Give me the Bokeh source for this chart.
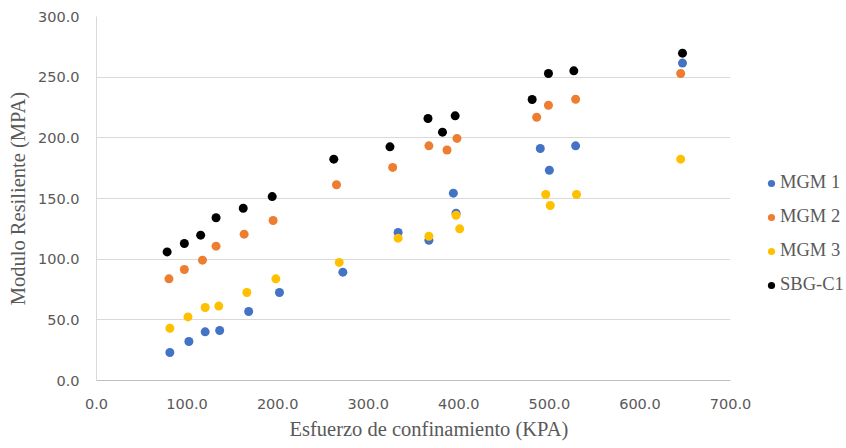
from bokeh.plotting import figure
from bokeh.models import Range1d, FixedTicker, NumeralTickFormatter, Legend, LegendItem, Title
from bokeh.embed import file_html
from bokeh.resources import INLINE

series_names = ["MGM 1", "MGM 2", "MGM 3", "SBG-C1"]
series_colors = ["#4472C4", "#ED7D31", "#FFC000", "#000000"]

x_mgm1 = [81, 102, 120, 136, 168, 202, 272, 333, 367, 394, 397, 490, 500, 529, 647]
y_mgm1 = [23.1, 32.1, 40.1, 41.2, 56.9, 72.5, 89.3, 122.0, 115.6, 154.4, 137.9, 191.2, 173.3, 193.4, 261.6]

x_mgm2 = [80, 97, 117, 132, 163, 195, 265, 327, 367, 387, 398, 486, 499, 529, 645]
y_mgm2 = [83.8, 91.5, 99.2, 110.7, 120.6, 131.9, 161.3, 175.6, 193.4, 190.0, 199.5, 217.0, 226.9, 231.8, 253.0]

x_mgm3 = [81, 101, 120, 135, 166, 198, 268, 333, 367, 397, 401, 496, 501, 530, 645]
y_mgm3 = [43.1, 52.4, 60.2, 61.3, 72.5, 83.8, 97.3, 117.3, 118.9, 136.2, 125.0, 153.3, 144.2, 153.3, 182.4]

x_sbg = [78, 97, 115, 132, 162, 194, 262, 324, 366, 382, 396, 481, 499, 527, 647]
y_sbg = [106.0, 112.9, 119.8, 134.1, 142.0, 151.6, 182.4, 192.6, 215.9, 204.7, 218.1, 231.6, 253.0, 255.2, 269.8]

x_ticks = [0, 100, 200, 300, 400, 500, 600, 700]
y_ticks = [0, 50, 100, 150, 200, 250, 300]

x_title = "Esfuerzo de confinamiento (KPA)"
y_title = "Modulo Resiliente (MPA)"

xs = [x_mgm1, x_mgm2, x_mgm3, x_sbg]
ys = [y_mgm1, y_mgm2, y_mgm3, y_sbg]

FW, FH = 634, 364

p = figure(frame_width=FW, frame_height=FH, output_backend="svg", toolbar_location=None,
           x_range=Range1d(0, 700), y_range=Range1d(0, 300),
           min_border_left=96, min_border_right=116, min_border_top=16, min_border_bottom=68)
p.outline_line_color = None
p.background_fill_color = "white"
p.border_fill_color = "white"

items = []
for name, col, x, y in zip(series_names, series_colors, xs, ys):
    r = p.scatter(x, y, size=9, fill_color=col, line_color=None)
    items.append(LegendItem(label=name, renderers=[r]))

tick_font = "DejaVu Sans"
title_font = "Liberation Serif"

p.xaxis.ticker = FixedTicker(ticks=x_ticks)
p.yaxis.ticker = FixedTicker(ticks=y_ticks)
p.xaxis.formatter = NumeralTickFormatter(format="0.0")
p.yaxis.formatter = NumeralTickFormatter(format="0.0")
for ax in (p.xaxis, p.yaxis):
    ax.major_tick_line_color = None
    ax.minor_tick_line_color = None
    ax.major_tick_out = 0
    ax.major_tick_in = 0
    ax.major_label_text_font = tick_font
    ax.major_label_text_font_size = "14.5px"
    ax.major_label_text_color = "#595959"
    ax.axis_label_text_font = title_font
    ax.axis_label_text_font_size = "20.5px"
    ax.axis_label_text_font_style = "normal"
    ax.axis_label_text_color = "#595959"
p.xaxis.axis_line_color = "#BFBFBF"
p.yaxis.axis_line_color = "#D9D9D9"
p.yaxis.axis_label = y_title
p.xaxis.major_label_standoff = 18
p.yaxis.major_label_standoff = 17
p.yaxis.axis_label_standoff = 6

xt = Title(text=x_title, align="left", offset=193, vertical_align="bottom",
           text_font=title_font, text_font_size="20.5px", text_font_style="normal",
           text_color="#595959", standoff=8)
p.add_layout(xt, "below")

p.xgrid.grid_line_color = None
p.ygrid.grid_line_color = "#D9D9D9"
p.ygrid.ticker = FixedTicker(ticks=y_ticks)

legend = Legend(items=items, location=(32, 85), border_line_color=None,
                background_fill_alpha=0, padding=0, margin=0, spacing=13,
                glyph_width=18, glyph_height=20, label_height=20, label_standoff=0,
                label_text_font=title_font, label_text_font_size="18.5px",
                label_text_color="#595959")
p.add_layout(legend, "right")

open("out.html", "w").write(file_html(p, INLINE))
